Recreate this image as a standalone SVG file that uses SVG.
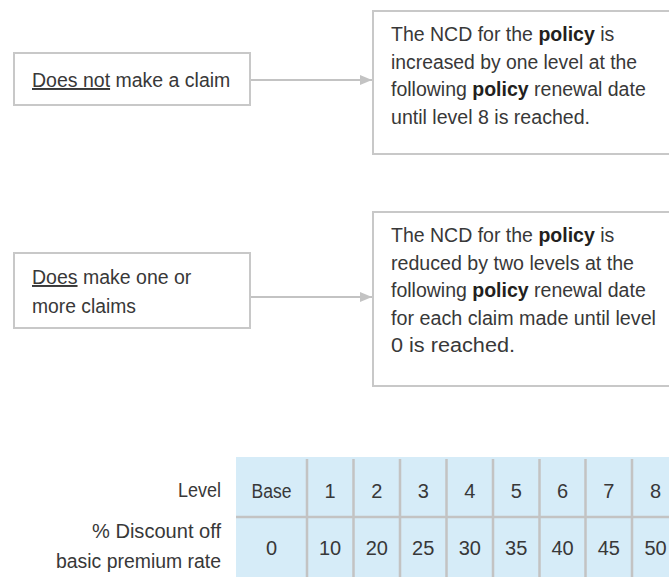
<svg xmlns="http://www.w3.org/2000/svg" width="669" height="577" viewBox="0 0 669 577">
<style>
  .box{fill:#ffffff;stroke:#c8c8c8;stroke-width:2}
  .t{font-family:"Liberation Sans",Arial,sans-serif;font-size:19.5px;fill:#383838}
  .n{font-size:20px}
  .b{font-weight:bold;fill:#231f20}
  .u{text-decoration:underline}
  .conn{stroke:#c3c3c3;stroke-width:2;fill:none}
  .cell{fill:#d6ecf8}
  .grid{stroke:#c3c3c3;stroke-width:2.5}
  .c{text-anchor:middle}
  .r{text-anchor:end}
</style>
<defs>
  <marker id="ah" markerWidth="12" markerHeight="10" refX="12" refY="5" orient="auto" markerUnits="userSpaceOnUse">
    <path d="M0,0 L12,5 L0,10 Z" fill="#c3c3c3"/>
  </marker>
</defs>
<g id="connectors">
  <line class="conn" x1="251" y1="80" x2="372" y2="80" marker-end="url(#ah)"/>
  <line class="conn" x1="251" y1="297" x2="372" y2="297" marker-end="url(#ah)"/>
</g>
<g id="no-claim">
  <rect class="box" x="14" y="53" width="236" height="52"/>
  <text class="t" x="32" y="87"><tspan class="u">Does not</tspan> make a claim</text>
</g>
<g id="increase">
  <rect class="box" x="373" y="11" width="310" height="143"/>
  <text class="t" x="391" y="41">The NCD for the <tspan class="b">policy</tspan> is</text>
  <text class="t" x="391" y="68.5" textLength="246" lengthAdjust="spacingAndGlyphs">increased by one level at the</text>
  <text class="t" x="391" y="96">following <tspan class="b">policy</tspan> renewal date</text>
  <text class="t" x="391" y="123.5" textLength="199" lengthAdjust="spacingAndGlyphs">until level 8 is reached.</text>
</g>
<g id="claims">
  <rect class="box" x="14" y="253" width="236" height="75"/>
  <text class="t" x="32" y="284"><tspan class="u">Does</tspan> make one or</text>
  <text class="t" x="32" y="313" textLength="104" lengthAdjust="spacingAndGlyphs">more claims</text>
</g>
<g id="reduce">
  <rect class="box" x="373" y="212" width="310" height="174"/>
  <text class="t" x="391" y="242">The NCD for the <tspan class="b">policy</tspan> is</text>
  <text class="t" x="391" y="269.5" textLength="243" lengthAdjust="spacingAndGlyphs">reduced by two levels at the</text>
  <text class="t" x="391" y="297">following <tspan class="b">policy</tspan> renewal date</text>
  <text class="t" x="391" y="324.5" textLength="265" lengthAdjust="spacingAndGlyphs">for each claim made until level</text>
  <text class="t" x="391" y="352" textLength="124" lengthAdjust="spacingAndGlyphs">0 is reached.</text>
</g>
<g id="ncd-table">
  <rect class="cell" x="236" y="457" width="440" height="120"/>
  <line class="grid" x1="236" y1="517" x2="669" y2="517"/>
  <g class="grid">
    <line x1="307" y1="459" x2="307" y2="577"/>
    <line x1="353.5" y1="459" x2="353.5" y2="577"/>
    <line x1="400" y1="459" x2="400" y2="577"/>
    <line x1="446.5" y1="459" x2="446.5" y2="577"/>
    <line x1="493" y1="459" x2="493" y2="577"/>
    <line x1="539.5" y1="459" x2="539.5" y2="577"/>
    <line x1="585.5" y1="459" x2="585.5" y2="577"/>
    <line x1="632" y1="459" x2="632" y2="577"/>
  </g>
  <text class="t r" x="221" y="497" textLength="43" lengthAdjust="spacingAndGlyphs">Level</text>
  <text class="t r" x="221" y="538" textLength="129" lengthAdjust="spacingAndGlyphs">% Discount off</text>
  <text class="t r" x="221" y="568" textLength="165" lengthAdjust="spacingAndGlyphs">basic premium rate</text>
  <text class="t n c" x="271.5" y="498" textLength="40" lengthAdjust="spacingAndGlyphs">Base</text>
  <text class="t n c" x="330" y="498">1</text>
  <text class="t n c" x="376.8" y="498">2</text>
  <text class="t n c" x="423.2" y="498">3</text>
  <text class="t n c" x="469.8" y="498">4</text>
  <text class="t n c" x="516.2" y="498">5</text>
  <text class="t n c" x="562.5" y="498">6</text>
  <text class="t n c" x="608.8" y="498">7</text>
  <text class="t n c" x="655.5" y="498">8</text>
  <text class="t n c" x="271.5" y="555">0</text>
  <text class="t n c" x="330" y="555">10</text>
  <text class="t n c" x="376.8" y="555">20</text>
  <text class="t n c" x="423.2" y="555">25</text>
  <text class="t n c" x="469.8" y="555">30</text>
  <text class="t n c" x="516.2" y="555">35</text>
  <text class="t n c" x="562.5" y="555">40</text>
  <text class="t n c" x="608.8" y="555">45</text>
  <text class="t n c" x="655.5" y="555">50</text>
</g>
</svg>
